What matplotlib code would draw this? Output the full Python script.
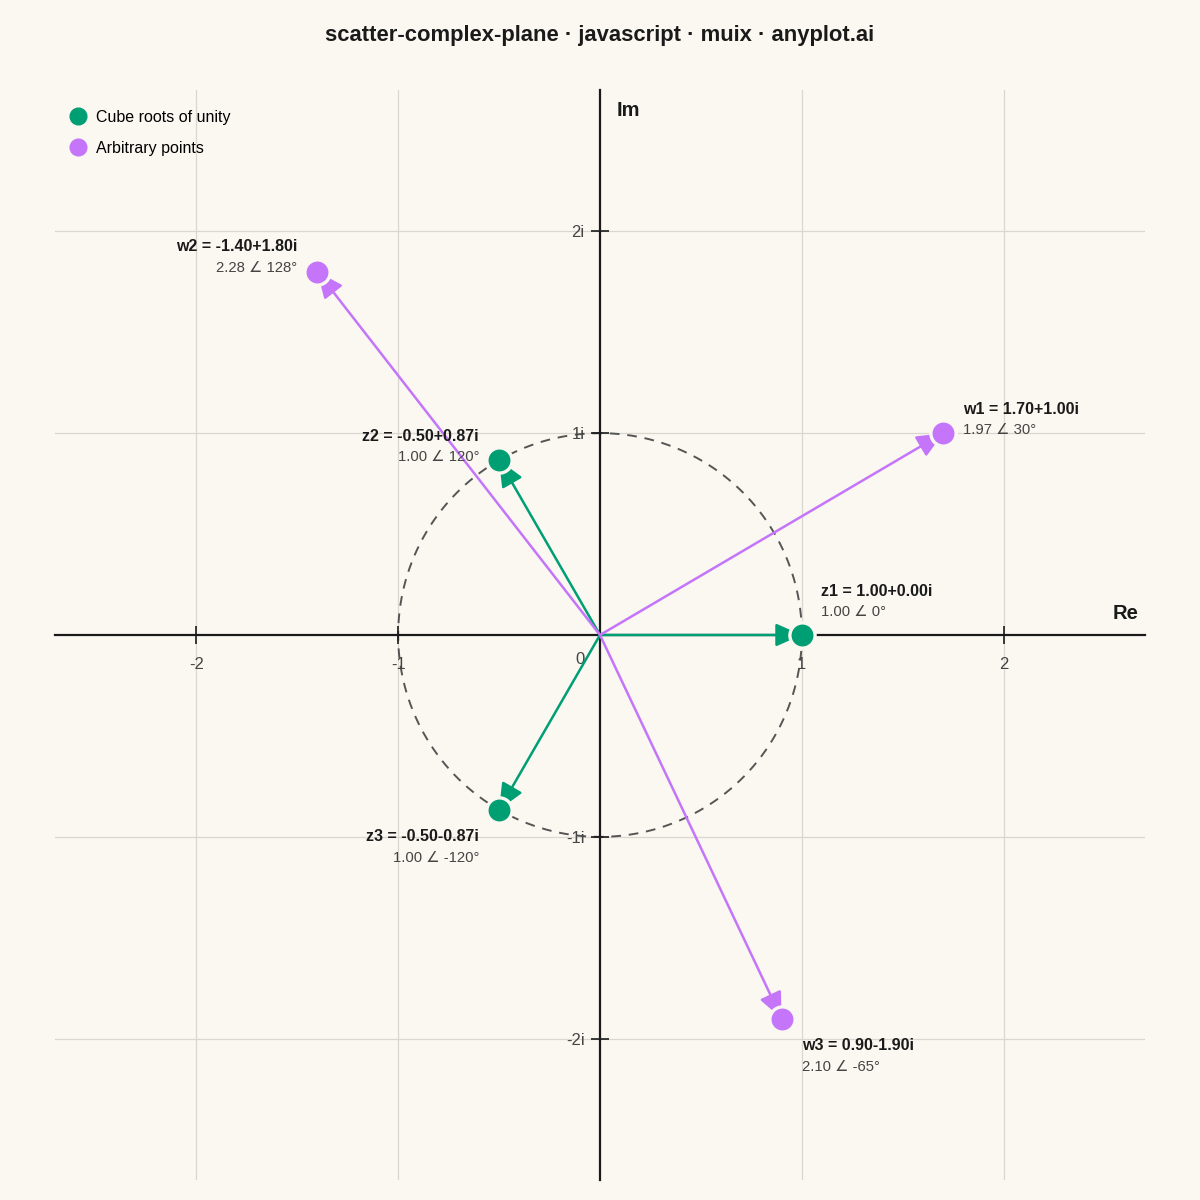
import numpy as np
import matplotlib

matplotlib.use("Agg")
import matplotlib.pyplot as plt
from matplotlib.lines import Line2D

plt.rcParams["font.family"] = ["Liberation Sans", "DejaVu Sans"]

# ---- data ----
roots_names = ["z1", "z2", "z3"]
roots_re = [1.0, -0.5, -0.5]
roots_im = [0.0, 0.866, -0.866]

arb_names = ["w1", "w2", "w3"]
arb_re = [1.7, -1.4, 0.9]
arb_im = [1.0, 1.8, -1.9]

x_ticks = [-2, -1, 1, 2]
y_ticks = [-2, -1, 1, 2]
y_tick_labels = ["-2i", "-1i", "1i", "2i"]

# ---- style ----
BG = "#FAF8F1"
GREEN = "#009E73"
PURPLE = "#C475FA"
INK = "#1a1a1a"
SOFT = "#444444"

# label offsets in pixels (dx, dy of bold line), alignment
label_pos = {
    "z1": (19, 44, "left"),
    "z2": (-20, 24, "right"),
    "z3": (-20, -27, "right"),
    "w1": (20, 24, "left"),
    "w2": (-20, 25, "right"),
    "w3": (20, -27, "left"),
}

fig = plt.figure(figsize=(12, 12), dpi=100, facecolor=BG)
ax = fig.add_axes([55 / 1200, 20 / 1200, 1090 / 1200, 1090 / 1200])
ax.set_facecolor(BG)
ax.set_xlim(-2.7, 2.7)
ax.set_ylim(-2.7, 2.7)

# grid
for g in x_ticks:
    ax.axvline(g, color="#d9d7d0", lw=0.9, zorder=0)
for g in y_ticks:
    ax.axhline(g, color="#d9d7d0", lw=0.9, zorder=0)

# unit circle
t = np.linspace(0, 2 * np.pi, 400)
ax.plot(np.cos(t), np.sin(t), color="#555555", lw=1.4, ls=(0, (5, 4)), zorder=1)

# axes through origin
for side in ("top", "right"):
    ax.spines[side].set_visible(False)
ax.spines["left"].set_position("zero")
ax.spines["bottom"].set_position("zero")
for side in ("left", "bottom"):
    ax.spines[side].set_linewidth(1.6)
    ax.spines[side].set_color(INK)
    ax.spines[side].set_zorder(2)
ax.set_xticks(x_ticks)
ax.set_xticklabels([str(v) for v in x_ticks])
ax.set_yticks(y_ticks)
ax.set_yticklabels(y_tick_labels)
ax.tick_params(axis="both", direction="inout", length=13, width=1.2, color=INK,
               labelsize=12, labelcolor=SOFT)
ax.tick_params(axis="x", pad=9)
ax.tick_params(axis="y", pad=4.5)
ax.text(-0.1, -0.12, "0", fontsize=12, color=SOFT, ha="center", va="center")

ax.text(2.67, 0.06, "Re", fontsize=14.5, fontweight="bold", color=INK,
        ha="right", va="bottom")
ax.text(0.08, 2.6, "Im", fontsize=14.5, fontweight="bold", color=INK,
        ha="left", va="center")


def draw_group(names, res, ims, color):
    for n, re, im in zip(names, res, ims):
        ax.annotate("", xy=(re, im), xytext=(0, 0),
                    arrowprops=dict(arrowstyle="-|>,head_length=1.0,head_width=0.44",
                                    mutation_scale=16, color=color, lw=1.8,
                                    shrinkA=0, shrinkB=0),
                    zorder=3)
    ax.scatter(res, ims, s=330, color=color, edgecolors=BG, linewidths=2.4, zorder=4)
    for n, re, im in zip(names, res, ims):
        dx, dy, ha = label_pos[n]
        mag = np.hypot(re, im)
        ang = np.degrees(np.arctan2(im, re))
        ax.annotate(f"{n} = {re:.2f}{im:+.2f}i", xy=(re, im), xytext=(dx, dy),
                    textcoords="offset pixels", ha=ha, va="center",
                    fontsize=11.5, fontweight="bold", color=INK, zorder=5)
        ax.annotate(f"{mag:.2f} ∠ {ang:.0f}°", xy=(re, im), xytext=(dx, dy - 21),
                    textcoords="offset pixels", ha=ha, va="center",
                    fontsize=10.7, color=SOFT, zorder=5)


draw_group(roots_names, roots_re, roots_im, GREEN)
draw_group(arb_names, arb_re, arb_im, PURPLE)

handles = [
    Line2D([], [], marker="o", ls="", markersize=12, color=GREEN, label="Cube roots of unity"),
    Line2D([], [], marker="o", ls="", markersize=12, color=PURPLE, label="Arbitrary points"),
]
ax.legend(handles=handles, loc="upper left", bbox_to_anchor=(-0.002, 0.9967), frameon=False,
          fontsize=11.5, handletextpad=0.6, labelspacing=1.0, borderaxespad=0.3,
          handlelength=1.1, borderpad=0.7)

fig.text(0.5, 1 - 36 / 1200, "scatter-complex-plane · javascript · muix · anyplot.ai",
         ha="center", va="center", fontsize=15.8, fontweight="bold", color=INK)

fig.savefig("out.png", dpi=100, facecolor=BG)
